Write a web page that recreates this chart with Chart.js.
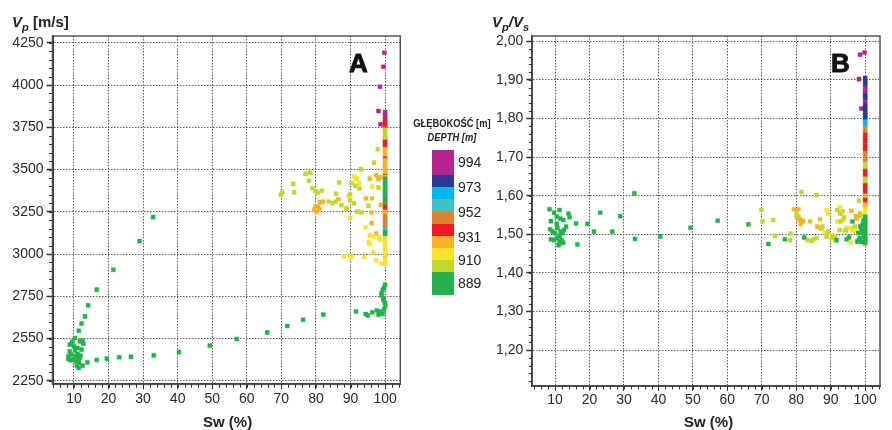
<!DOCTYPE html>
<html>
<head>
<meta charset="utf-8">
<script src="https://cdn.jsdelivr.net/npm/chart.js@4.4.1/dist/chart.umd.min.js"></script>
<style>
  html, body { margin: 0; padding: 0; background: #fff; }
  body { width: 892px; height: 430px; position: relative; overflow: hidden;
         font-family: "Liberation Sans", Arial, sans-serif; color: #222; }
  canvas { position: absolute; top: 0; }
  #chartA { left: 0; }
  #chartB { left: 480px; }
  .lbl { position: absolute; white-space: nowrap; font-weight: bold; line-height: 1; }
  .axisT { font-size: 15px; }
  .panel { font-size: 26px; -webkit-text-stroke: 0.9px #111; color: #111; }
  .leg-title { position: absolute; left: 400px; width: 104px; text-align: center; white-space: nowrap;
               font-family: "Liberation Sans", Arial, sans-serif; font-weight: bold;
               font-size: 11px; line-height: 11px; color: #222;
               transform: scaleX(0.85); transform-origin: 51.5px 50%; }
  .band { position: absolute; left: 432px; width: 22px; }
  .legnum { position: absolute; left: 458px; font-size: 14px; line-height: 14px; color: #222; }
</style>
</head>
<body>
<canvas id="chartA" width="420" height="430"></canvas>
<canvas id="chartB" width="412" height="430"></canvas>

<div class="lbl axisT" style="left:12px;top:14px;"><i>V<sub style="font-size:11px;">p</sub></i> [m/s]</div>
<div class="lbl axisT" style="left:492px;top:14px;"><i>V<sub style="font-size:11px;">p</sub>/V<sub style="font-size:11px;">s</sub></i></div>
<div class="lbl axisT" style="left:203px;top:414px;">Sw (%)</div>
<div class="lbl axisT" style="left:684px;top:414px;">Sw (%)</div>
<div class="lbl panel" style="left:349px;top:49.5px;">A</div>
<div class="lbl panel" style="left:831px;top:49.5px;">B</div>

<div class="leg-title" style="top:117.5px;">GŁĘBOKOŚĆ [m]</div>
<div class="leg-title" style="top:132px;"><i>DEPTH [m]</i></div>
<div id="legend"></div>

<script>
// Depth classes, top of the colour bar first
const depthColors = ['#B2258F', '#2E3A92', '#00B8EA', '#3EC1C4', '#DA8431',
                     '#ED1C24', '#F9B12A', '#FCE22B', '#C0D72F', '#23B24B'];
const depthBandEdges = [150, 175, 187, 199, 211.7, 223.7, 236, 248, 260, 272, 295];
const depthLabels = ['994', '973', '952', '931', '910', '889'];
const depthLabelTops = [154.8, 179.8, 204.8, 229.8, 253.1, 276.1];

// Axis ticks
const swTicks = [10, 20, 30, 40, 50, 60, 70, 80, 90, 100];
const vpTicks = [2250, 2500, 2750, 3000, 3250, 3500, 3750, 4000, 4250];
const vpTickLabels = ['2250', '2550', '2750', '3000', '3250', '3500', '3750', '4000', '4250'];
const ratioTicks = [1.2, 1.3, 1.4, 1.5, 1.6, 1.7, 1.8, 1.9, 2.0];
const ratioTickLabels = ['1,20', '1,30', '1,40', '1,50', '1,60', '1,70', '1,80', '1,90', '2,00'];

// Panel A: Sw (%) vs Vp (m/s), one list per depth class
const vpGreen = [
  [10.3,2503],[9.3,2469],[8.8,2463],[9.6,2483],[10.0,2454],[11.0,2444],[11.7,2483],[12.5,2489],
  [12.7,2469],[12.2,2434],[11.0,2410],[10.6,2394],[8.8,2424],[8.4,2394],[8.4,2379],[9.0,2371],
  [9.8,2375],[10.6,2365],[11.3,2375],[11.7,2385],[11.9,2399],[11.5,2355],[10.8,2339],[11.4,2326],
  [12.5,2339],[13.9,2359],[9.3,2404],[10.3,2430],
  [11.4,2546],[12.2,2588],[13.2,2631],[14.1,2696],[16.6,2789],[21.4,2907],[29.0,3076],[32.9,3218],
  [16.6,2373],[19.5,2381],[23.1,2389],[26.5,2391],[33.1,2400],[40.4,2420],[49.3,2458],[57.1,2497],
  [65.9,2536],[71.7,2574],[76.3,2611],[82.1,2641],[91.6,2660],[94.4,2645],[95.0,2637],[96.3,2655],
  [97.6,2666],[98.1,2641],[98.5,2660],[99.3,2645],[99.7,2670],[100,2690],[100,2710],[99.6,2725],
  [99.5,2739],[99.0,2755],[99.0,2769],[99.3,2788],[99.7,2800],[100,2818],
  [100,3445],[100,3430],[100,3415],[100,3400],[100,3385],[100,3370],[100,3355],[100,3345],
  [100,3315],[100,3305],[100,3128],[100,3118]
];
const vpYellowGreen = [
  [69.9,3350],[70.2,3364],[73.7,3366],[73.4,3415],[77.0,3474],[78.3,3482],[78.0,3433],[79.0,3389],
  [79.9,3370],[80.5,3362],[81.7,3374],[85.8,3356],[86.7,3423],[83.7,3311],[84.8,3301],[85.7,3311],
  [87.4,3289],[88.9,3271],[89.9,3354],[89.9,3316],[90.3,3419],[91.0,3301],[92.0,3251],[93.2,3246],
  [92.6,3389],[91.4,3403],[93.0,3502],[96.8,3541],[97.9,3620],[95.2,3285],[96.2,3328],[98.1,3393],
  [100,3735],[100,3722],[100,3700],[100,3690]
];
const vpYellow = [
  [91.1,3458],[91.8,3446],[92.6,3419],[96.3,3399],[89.5,3344],[88.7,3265],[89.9,3212],[94.4,3159],
  [95.6,3110],[96.6,3104],[98.3,3100],[98.5,3084],[95.3,3068],[95.6,3060],[96.6,3009],[88.1,2986],
  [89.7,2989],[90.3,2986],[94.0,2982],[97.4,2962],[99.0,2942],[91.6,3442],
  [100,3105],[100,3090],[100,3075],[100,3060],[100,3045],[100,3030],[100,3015],[100,3000],
  [100,2975],[100,2960],[100,2945]
];
const vpAmber = [
  [79.5,3261],[80.2,3251],[80.7,3281],[81.2,3307],[82.1,3311],[81.0,3265],[79.9,3281],[86.5,3324],
  [95.6,3446],[97.4,3466],[98.1,3443],[98.7,3454],[94.5,3328],[96.1,3246],[96.1,3183],[97.4,3121],
  [98.8,3291],
  [100,3620],[100,3605],[100,3590],[100,3555],[100,3540],[100,3525],[100,3510],[100,3495],
  [100,3485],[100,3455],[100,3250]
];
const vpRed = [
  [100,3795],[100,3780],[100,3765],[100,3750],[100,3680],[100,3665],[100,3650],[100,3470],
  [100,3335],[100,3295],[100,3280],[100,3265]
];
const vpOrange = [[100,3240],[100,3225],[100,3210],[100,3195],[100,3180],[100,3168]];
const vpTeal = [[100,3152],[100,3142]];
const vpCyan = [[100,2990]];
const vpPurple = [
  [99.8,4191],[99.5,4108],[98.5,3990],[98.1,3846],[98.7,3768],
  [100,3840],[100,3825],[100,3810],[100,3635],[100,3572]
];

// Panel B: Sw (%) vs Vp/Vs, one list per depth class
const ratioGreen = [
  [8.4,1.565],[9.7,1.556],[11.3,1.563],[8.8,1.534],[10.5,1.546],[11.5,1.541],[12.4,1.537],[13.9,1.554],
  [14.2,1.544],[13.2,1.520],[8.6,1.513],[9.3,1.507],[10.0,1.503],[10.7,1.516],[11.6,1.507],[12.2,1.503],
  [12.6,1.511],[8.8,1.487],[9.7,1.485],[10.5,1.490],[11.3,1.481],[11.9,1.485],[12.4,1.478],[11.0,1.472],
  [11.6,1.477],[10.5,1.527],[11.3,1.496],[16.1,1.528],[16.5,1.474],[19.4,1.527],[21.3,1.507],[23.1,1.556],
  [26.6,1.507],[28.9,1.547],[33.0,1.606],[33.2,1.488],[40.5,1.494],[49.3,1.517],[57.2,1.535],[66.1,1.526],
  [71.9,1.475],[76.7,1.487],[82.3,1.492],[91.7,1.485],[94.6,1.487],[95.3,1.492],[96.3,1.533],[97.7,1.481],
  [98.0,1.503],[98.5,1.490],[98.9,1.511],[99.2,1.524],[99.6,1.494],[98.2,1.485],[99.0,1.480],[99.3,1.505],
  [98.6,1.520],[99.5,1.535],
  [100,1.545],[100,1.538],[100,1.531],[100,1.524],[100,1.517],[100,1.510],[100,1.503],[100,1.496],
  [100,1.489],[100,1.482],[100,1.477]
];
const ratioYellowGreen = [
  [69.9,1.563],[70.2,1.533],[73.3,1.537],[73.8,1.496],[81.5,1.610],[85.9,1.602],[80.1,1.554],[80.6,1.546],
  [84.0,1.533],[78.4,1.502],[84.9,1.487],[84.4,1.483],[83.3,1.485],[89.3,1.507],[88.8,1.494],[90.5,1.492],
  [91.9,1.563],[92.7,1.554],[92.9,1.533],[93.9,1.544],[98.2,1.587],[98.5,1.546],[87.3,1.516],[86.9,1.539],
  [78.2,1.485],[85.9,1.490],[87.6,1.520],[91.2,1.492],[92.6,1.511],[94.4,1.511],[97.0,1.520],[98.6,1.550],
  [100,1.682],[100,1.675],[100,1.644],[100,1.638]
];
const ratioYellow = [
  [88.8,1.563],[89.3,1.553],[91.9,1.533],[88.3,1.504],[90.5,1.498],[91.2,1.485],[94.6,1.516],[95.8,1.516],
  [95.8,1.478],[97.3,1.507],[93.6,1.537],[94.1,1.509],[92.7,1.570],[93.1,1.554],[90.2,1.490],[96.3,1.511],
  [100,1.565],[100,1.558],[100,1.552]
];
const ratioAmber = [
  [79.3,1.565],[80.6,1.565],[81.1,1.539],[81.8,1.533],[81.3,1.527],[80.1,1.546],[80.9,1.537],[82.0,1.535],
  [86.1,1.520],[87.1,1.515],[93.4,1.559],[96.0,1.561],[98.5,1.554],[97.5,1.541],[97.3,1.547],
  [100,1.600],[100,1.578],[100,1.572]
];
const ratioRed = [
  [100,1.758],[100,1.750],[100,1.742],[100,1.730],[100,1.722],[100,1.668],[100,1.660],[100,1.652],
  [100,1.632],[100,1.624],[100,1.616],[100,1.608],[100,1.593],[100,1.586]
];
const ratioOrange = [[100,1.775],[100,1.767],[100,1.737],[100,1.715],[100,1.707],[100,1.699],[100,1.690]];
const ratioCyan = [[100,1.792],[100,1.784]];
const ratioBlue = [
  [100,1.905],[100,1.897],[100,1.890],[100,1.860],[100,1.854],[100,1.836],[100,1.829],[100,1.822],
  [100,1.815],[100,1.808],[100,1.800]
];
const ratioPurple = [
  [98.5,1.965],[99.8,1.971],[98.2,1.902],[98.9,1.826],[100,1.882],[100,1.874],[100,1.867],[100,1.846]
];

// ---- colour bar legend ----
const legend = document.getElementById('legend');
depthColors.forEach((c, i) => {
  const d = document.createElement('div');
  d.className = 'band';
  d.style.top = depthBandEdges[i] + 'px';
  d.style.height = (depthBandEdges[i + 1] - depthBandEdges[i]) + 'px';
  d.style.background = c;
  legend.appendChild(d);
});
depthLabels.forEach((t, i) => {
  const d = document.createElement('div');
  d.className = 'legnum';
  d.style.top = depthLabelTops[i] + 'px';
  d.textContent = t;
  legend.appendChild(d);
});

// ---- chart helpers ----
const C = {
  purple: depthColors[0], blue: depthColors[1], cyan: depthColors[2], teal: depthColors[3],
  orange: depthColors[4], red: depthColors[5], amber: depthColors[6], yellow: depthColors[7],
  yg: depthColors[8], green: depthColors[9]
};
function halo(hex) {
  const n = parseInt(hex.slice(1), 16);
  return `rgba(${n >> 16},${(n >> 8) & 255},${n & 255},0.35)`;
}
function ds(data, color) {
  return {
    data, pointStyle: 'rect', pointRadius: 2.9, pointHoverRadius: 2.9,
    backgroundColor: color, borderColor: halo(color), borderWidth: 1
  };
}

// minor tick marks on both axes plus the frame around the plot area
const frameAndMinor = {
  id: 'frameAndMinor',
  afterDraw(chart, args, o) {
    const { ctx, chartArea: a, scales: { x, y } } = chart;
    ctx.save();
    ctx.strokeStyle = '#555';
    ctx.lineWidth = 1.5;
    ctx.strokeRect(a.left, a.top, a.right - a.left, a.bottom - a.top);
    ctx.strokeStyle = '#333';
    ctx.lineWidth = 1;
    ctx.beginPath();
    for (let i = Math.ceil(x.min / o.xStep); i * o.xStep <= x.max; i++) {
      const px = Math.round(x.getPixelForValue(i * o.xStep)) + 0.5;
      ctx.moveTo(px, a.bottom);
      ctx.lineTo(px, a.bottom + 3.5);
    }
    for (let i = Math.ceil(y.min / o.yStep - 1e-6); i * o.yStep <= y.max + 1e-9; i++) {
      const py = Math.round(y.getPixelForValue(i * o.yStep)) + 0.5;
      ctx.moveTo(a.left - 3.5, py);
      ctx.lineTo(a.left, py);
    }
    ctx.stroke();
    ctx.restore();
  }
};

const tickFont = { family: '"Liberation Sans", Arial, sans-serif', size: 14 };
function makeChart(id, datasets, cfg) {
  return new Chart(document.getElementById(id), {
    type: 'scatter',
    data: { datasets },
    plugins: [frameAndMinor],
    options: {
      responsive: false, animation: false, events: [],
      layout: { padding: { left: 0, top: 36, right: cfg.padRight, bottom: 0 } },
      plugins: { legend: { display: false }, tooltip: { enabled: false },
                 frameAndMinor: { xStep: 2, yStep: cfg.yMinor } },
      scales: {
        x: {
          type: 'linear', min: cfg.xMin, max: cfg.xMax,
          afterBuildTicks: s => { s.ticks = swTicks.map(v => ({ value: v })); },
          afterFit: s => { s.height = cfg.xAxisH; },
          ticks: { font: tickFont, color: '#2a2a2a', padding: 1, maxRotation: 0, autoSkip: false },
          grid: { color: '#5e5e5e', lineWidth: 1, tickColor: '#333', tickLength: 5, tickWidth: 1 },
          border: { display: true, color: '#333', width: 2, dash: [1.5, 1.5] }
        },
        y: {
          type: 'linear', min: cfg.yMin, max: cfg.yMax,
          afterBuildTicks: s => { s.ticks = cfg.yTicks.map(v => ({ value: v })); },
          afterFit: s => { s.width = cfg.yAxisW; },
          ticks: { font: tickFont, color: '#2a2a2a', padding: 3, autoSkip: false,
                   callback: (v, i) => cfg.yLabels[i] },
          grid: { color: '#5e5e5e', lineWidth: 1, tickColor: '#333', tickLength: 6, tickWidth: 1.5 },
          border: { display: true, color: '#333', width: 2, dash: [1.5, 1.5] }
        }
      }
    }
  });
}

makeChart('chartA', [
  ds(vpGreen, C.green), ds(vpYellowGreen, C.yg), ds(vpYellow, C.yellow), ds(vpAmber, C.amber),
  ds(vpRed, C.red), ds(vpOrange, C.orange), ds(vpTeal, C.teal), ds(vpCyan, C.cyan), ds(vpPurple, C.purple)
], {
  xMin: 3.8, xMax: 104.4, yMin: 2229, yMax: 4290, yTicks: vpTicks, yLabels: vpTickLabels,
  yMinor: 50, padRight: 19.7, xAxisH: 45.7, yAxisW: 52.5
});

makeChart('chartB', [
  ds(ratioGreen, C.green), ds(ratioYellowGreen, C.yg), ds(ratioYellow, C.yellow), ds(ratioAmber, C.amber),
  ds(ratioRed, C.red), ds(ratioOrange, C.orange), ds(ratioCyan, C.cyan), ds(ratioBlue, C.blue),
  ds(ratioPurple, C.purple)
], {
  xMin: 3.4, xMax: 104.3, yMin: 1.107, yMax: 2.0137, yTicks: ratioTicks, yLabels: ratioTickLabels,
  yMinor: 0.02, padRight: 12, xAxisH: 44, yAxisW: 52.3
});
</script>
</body>
</html>
